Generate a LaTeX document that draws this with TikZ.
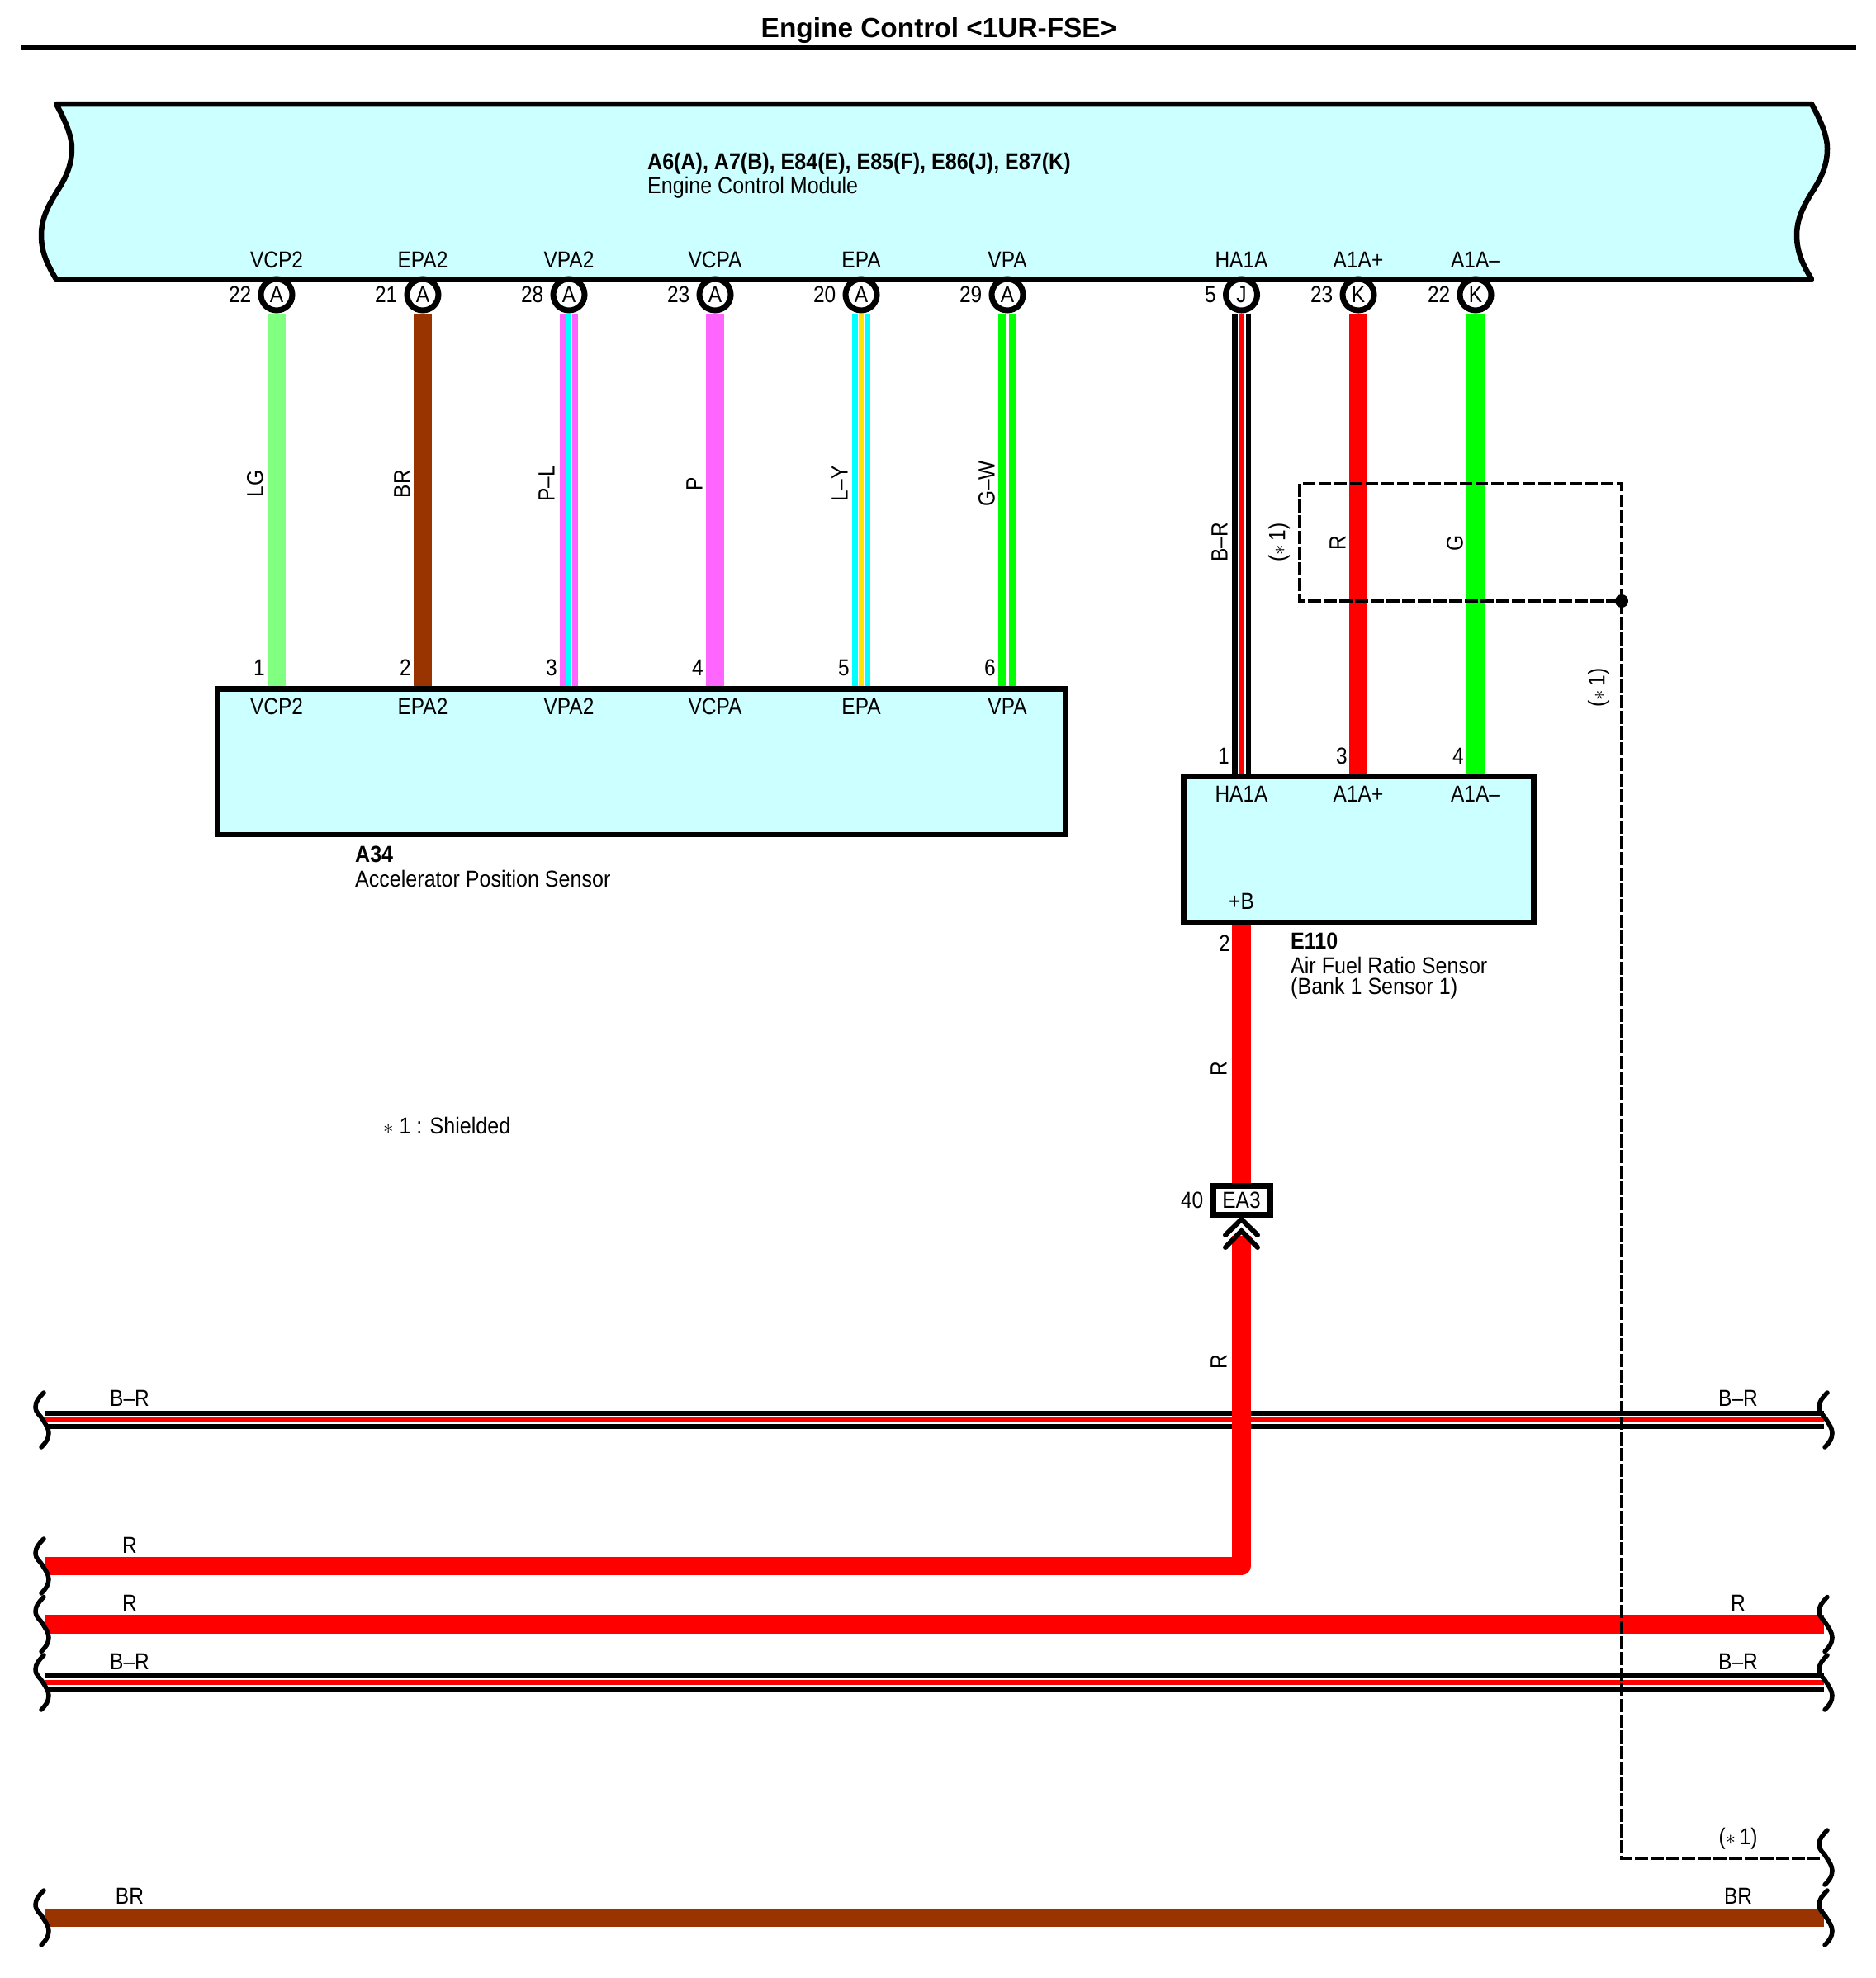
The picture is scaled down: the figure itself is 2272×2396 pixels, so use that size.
\documentclass[tikz,border=0pt]{standalone}
\usepackage{fontspec}
\setmainfont[FakeStretch=0.875]{Liberation Sans}
\newfontfamily\capfont[FakeStretch=0.895]{Liberation Sans}
\newfontfamily\titlefont{Liberation Sans}
\definecolor{boxcol}{HTML}{CCFFFF}
\definecolor{lgcol}{HTML}{80FF80}
\definecolor{brcol}{HTML}{993300}
\definecolor{pcol}{HTML}{FF66FF}
\definecolor{lcol}{HTML}{00FFFF}
\definecolor{ycol}{HTML}{FFE600}
\definecolor{gcol}{HTML}{00FF00}
\definecolor{rcol}{HTML}{FF0000}
\pgfdeclarelayer{wires}
\pgfsetlayers{wires,main}
\tikzset{
    lab/.style={inner sep=0pt, font=\fontsize{28}{31}\selectfont},
    captext/.style={inner sep=0pt, anchor=west, align=left, font=\capfont\fontsize{28}{31}\selectfont},
    boldtext/.style={captext, font=\capfont\bfseries\fontsize{28}{31}\selectfont},
    vlab/.style={lab, rotate=90},
    pinnum/.style={inner sep=0pt, xshift=-8pt, font=\fontsize{28}{31}\selectfont},
    pinname/.style={inner sep=0pt, yshift=10pt, font=\fontsize{28}{31}\selectfont},
    pinnode/.style={circle, draw=black, fill=white, line width=7pt, minimum size=38pt, inner sep=0pt, font=\fontsize{28}{31}\selectfont},
    boxnode/.style={rectangle, draw=black, fill=boxcol, line width=6.6pt},
    wire/.style={line width=22.5pt, line join=round},
    shield/.style={line width=4pt, dash pattern=on 15.5pt off 3.5pt},
    curlyline/.style={line width=5.5pt, line cap=round},
    curlyend/.pic={\draw[curlyline] (1,-33) .. controls (-5,-27) and (-9,-22) .. (-9,-16) .. controls (-9,-8) and (-3,-6) .. (0,0) .. controls (3,5) and (7,10) .. (7,16) .. controls (7,23) and (3,28) .. (-2,33);}
}
% outer colour, inner colour, white gap
\newcommand{\stripewire}[5]{
    \draw[wire,#3] (#1) -- (#2);
    \draw[line width=#5pt,white] (#1) -- (#2);
    \draw[line width=5.8pt,#4] (#1) -- (#2);
}
\begin{document}
\begin{tikzpicture}[x=1pt,y=-1pt]
    \useasboundingbox (0,0) rectangle (2272,2396);

    \node [inner sep=0pt, font=\titlefont\bfseries\fontsize{33.4}{36}\selectfont] (title) at (1137,37) {Engine Control <1UR-FSE>};
    \draw[line width=6.5pt] (26,57.3) -- (2248,57.3);

    \draw[line width=6.5pt, fill=boxcol, line join=round] (68,126) -- (2194,126)
        .. controls (2206,148) and (2213,165) .. (2213,180) .. controls (2213,200) and (2206,215) .. (2195,232)
        .. controls (2184,250) and (2176,265) .. (2176,285) .. controls (2176,305) and (2183,320) .. (2194,338.3)
        -- (68,338.3) .. controls (57,320) and (50,305) .. (50,285) .. controls (50,265) and (58,250) .. (69,232)
        .. controls (80,215) and (87,200) .. (87,180) .. controls (87,165) and (80,148) .. (68,126) -- cycle;
    \node [boldtext] (ecmconn) at (784,198) {A6(A), A7(B), E84(E), E85(F), E86(J), E87(K)};
    \node [captext] (ecmname) at (784,227) {Engine Control Module};

    \node [pinnode, label={[pinnum]left:22}, label={[pinname]above:VCP2}] (pa) at (335,357) {A};
    \node [pinnode, label={[pinnum]left:21}, label={[pinname]above:EPA2}] (pb) at (512,357) {A};
    \node [pinnode, label={[pinnum]left:28}, label={[pinname]above:VPA2}] (pc) at (689,357) {A};
    \node [pinnode, label={[pinnum]left:23}, label={[pinname]above:VCPA}] (pd) at (866,357) {A};
    \node [pinnode, label={[pinnum]left:20}, label={[pinname]above:EPA}] (pe) at (1043,357) {A};
    \node [pinnode, label={[pinnum]left:29}, label={[pinname]above:VPA}] (pf) at (1220,357) {A};
    \node [pinnode, label={[pinnum]left:5}, label={[pinname]above:HA1A}] (pj) at (1503.5,357) {J};
    \node [pinnode, label={[pinnum]left:23}, label={[pinname]above:A1A+}] (pk) at (1645,357) {K};
    \node [pinnode, label={[pinnum]left:22}, label={[pinname]above:A1A–}] (pl) at (1787,357) {K};

    \node [boxnode, minimum width=1027.7pt, minimum height=176.6pt] (aps) at (776.9,922.5) {};
    \node [lab] (sa) at (335,856) {VCP2};
    \node [lab] (sb) at (512,856) {EPA2};
    \node [lab] (sc) at (689,856) {VPA2};
    \node [lab] (sd) at (866,856) {VCPA};
    \node [lab] (se) at (1043,856) {EPA};
    \node [lab] (sf) at (1220,856) {VPA};
    \node [lab, anchor=east] (na) at (321,809) {1};
    \node [lab, anchor=east] (nb) at (498,809) {2};
    \node [lab, anchor=east] (nc) at (675,809) {3};
    \node [lab, anchor=east] (nd) at (852,809) {4};
    \node [lab, anchor=east] (ne) at (1029,809) {5};
    \node [lab, anchor=east] (nf) at (1206,809) {6};
    \node [boldtext] (apsconn) at (430,1035) {A34};
    \node [captext] (apsname) at (430,1064) {Accelerator Position Sensor};

    \node [boxnode, minimum width=424.4pt, minimum height=176.6pt] (afs) at (1645.5,1029) {};
    \node [lab] (sj) at (1503.5,962) {HA1A};
    \node [lab] (sk) at (1645,962) {A1A+};
    \node [lab] (sl) at (1787,962) {A1A–};
    \node [lab] (splus) at (1503.5,1092) {+B};
    \node [lab, anchor=east] (nj) at (1489,916) {1};
    \node [lab, anchor=east] (nk) at (1632,916) {3};
    \node [lab, anchor=east] (nl) at (1773,916) {4};
    \node [lab, anchor=east] (nplus) at (1490,1143) {2};
    \node [boldtext] (afsconn) at (1563,1140) {E110};
    \node [captext] (afsname) at (1563,1169) {Air Fuel Ratio Sensor};
    \node [captext] (afsbank) at (1563,1197) {(Bank 1 Sensor 1)};

    \node [captext] (note) at (464,1363) {$\ast$ 1 : Shielded};

    \node [rectangle, draw=black, fill=white, line width=7pt, minimum width=69pt, minimum height=35pt, inner sep=0pt, font=\fontsize{28}{31}\selectfont, label={[pinnum]left:40}] (ea) at (1503.5,1454) {EA3};
    \coordinate (conn) at (1503.5,1497);
    \draw[line width=6pt, line cap=round] (1484,1496) -- (1503.5,1477) -- (1523,1496);
    \draw[line width=6pt, line cap=round] (1484,1511) -- (1503.5,1491) -- (1523,1511);

    \node [vlab] (wa) at (309,586) {LG};
    \node [vlab] (wb) at (487,586) {BR};
    \node [vlab] (wc) at (662,586) {P–L};
    \node [vlab] (wd) at (841,586) {P};
    \node [vlab] (we) at (1017,586) {L–Y};
    \node [vlab] (wf) at (1195,586) {G–W};
    \node [vlab] (wj) at (1477,657) {B–R};
    \node [vlab] (wk) at (1620,658) {R};
    \node [vlab] (wl) at (1762,658) {G};
    \node [vlab] (wsa) at (1549,657) {({$\ast$}\,1)};
    \node [vlab] (wsb) at (1936,833) {({$\ast$}\,1)};
    \node [vlab] (wup) at (1476,1295) {R};
    \node [vlab] (wlo) at (1476,1650) {R};

    \coordinate (rowaL) at (54,1720);
    \coordinate (rowaR) at (2209,1720);
    \coordinate (rowbL) at (54,1897);
    \coordinate (rowbC) at (1503.5,1897);
    \coordinate (rowcL) at (54,1967.5);
    \coordinate (rowcR) at (2209,1967.5);
    \coordinate (rowdL) at (54,2038);
    \coordinate (rowdR) at (2209,2038);
    \coordinate (rowfL) at (54,2323);
    \coordinate (rowfR) at (2209,2323);

    \node [lab] (laL) at (157,1694) {B–R};
    \node [lab] (laR) at (2105,1694) {B–R};
    \node [lab] (lbL) at (157,1872) {R};
    \node [lab] (lcL) at (157,1942) {R};
    \node [lab] (lcR) at (2105,1942) {R};
    \node [lab] (ldL) at (157,2013) {B–R};
    \node [lab] (ldR) at (2105,2013) {B–R};
    \node [lab] (leR) at (2105,2227) {({$\ast$}\,1)};
    \node [lab] (lfL) at (157,2297) {BR};
    \node [lab] (lfR) at (2105,2297) {BR};

    \begin{pgfonlayer}{wires}
        \draw[wire,lgcol] (pa) -- (sa);
        \draw[wire,brcol] (pb) -- (sb);
        \stripewire{pc}{sc}{pcol}{lcol}{8.5}
        \draw[wire,pcol] (pd) -- (sd);
        \stripewire{pe}{se}{lcol}{ycol}{8}
        \draw[line width=8.5pt,gcol,double=white,double distance=4.5pt] (pf) -- (sf);
        \stripewire{pj}{sj}{black}{rcol}{10}
        \draw[wire,rcol] (pk) -- (sk);
        \draw[wire,gcol] (pl) -- (sl);
        \stripewire{rowaL}{rowaR}{black}{rcol}{10}
        \stripewire{rowdL}{rowdR}{black}{rcol}{10}
        \draw[wire,rcol] (rowcL) -- (rowcR);
        \draw[wire,brcol] (rowfL) -- (rowfR);
        \draw[wire,rcol] (splus) -- (ea);
        \draw[wire,rcol] (conn) -- (rowbC) -- (rowbL);
    \end{pgfonlayer}

    \pic at (52,1720) {curlyend};
    \pic at (2212,1720) {curlyend};
    \pic at (52,1897) {curlyend};
    \pic at (52,1967.5) {curlyend};
    \pic at (2212,1967.5) {curlyend};
    \pic at (52,2038) {curlyend};
    \pic at (2212,2038) {curlyend};
    \pic at (2212,2250) {curlyend};
    \pic at (52,2323) {curlyend};
    \pic at (2212,2323) {curlyend};

    \node [circle, fill=black, inner sep=0pt, minimum size=16pt] (joint) at (1964,728) {};
    \coordinate (shTR) at (1964,586);
    \coordinate (shTL) at (1574,586);
    \coordinate (shBL) at (1574,728);
    \coordinate (shLow) at (1964,2251);
    \coordinate (shEnd) at (2204,2251);
    \draw[shield] (joint.center) -- (shTR) -- (shTL) -- (shBL) -- (joint.center);
    \draw[shield] (joint.center) -- (shLow) -- (shEnd);
\end{tikzpicture}
\end{document}
